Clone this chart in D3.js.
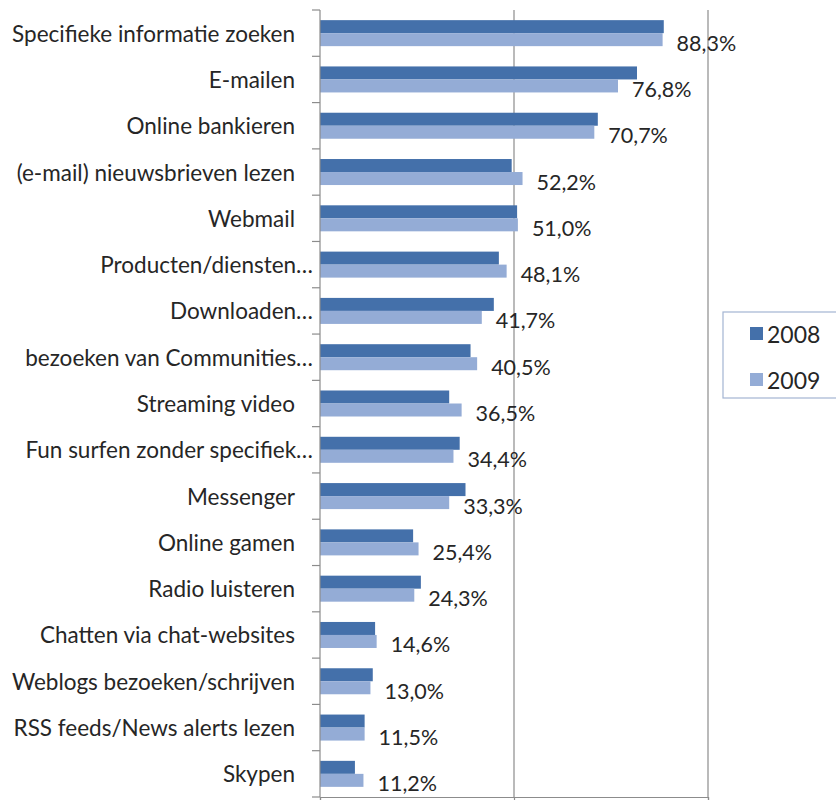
<!DOCTYPE html>
<html>
<head>
<meta charset="utf-8">
<script src="https://cdn.jsdelivr.net/npm/d3@7"></script>
<style>
body{margin:0;background:#fff;}
text{font-family:Lato,"Open Sans",sans-serif;fill:#262626;}
</style>
</head>
<body>
<div id="chart"></div>
<script>
var categories=['Specifieke informatie zoeken','E-mailen','Online bankieren','(e-mail) nieuwsbrieven lezen','Webmail',
'Producten/diensten…','Downloaden…','bezoeken van Communities…','Streaming video','Fun surfen zonder specifiek…',
'Messenger','Online gamen','Radio luisteren','Chatten via chat-websites','Weblogs bezoeken/schrijven',
'RSS feeds/News alerts lezen','Skypen'];
var v2008=[88.6,81.7,71.6,49.4,50.8,46.1,44.8,38.8,33.3,36.0,37.5,24.0,26.0,14.2,13.6,11.5,9.0];
var v2009=[88.3,76.8,70.7,52.2,51.0,48.1,41.7,40.5,36.5,34.4,33.3,25.4,24.3,14.6,13.0,11.5,11.2];
var years=['2008','2009'];
var colors={'2008':'#4470aa','2009':'#94acd6'};
var xTicks=[0,50,100];

var width=836,height=800;
var svg=d3.select("#chart").append("svg")
  .attr("width",width).attr("height",height);

var x=d3.scaleLinear().domain([0,100]).range([320,708]);
var y0=d3.scaleBand().domain(categories).range([10,797]);
var y1=d3.scaleBand().domain(years).range([0,y0.bandwidth()]).paddingOuter(0.78);

// gridlines
svg.selectAll(".grid")
  .data(xTicks.slice(1))
  .join("line")
  .attr("x1",d=>x(d)).attr("x2",d=>x(d))
  .attr("y1",10).attr("y2",797)
  .attr("stroke","#8c8c8c").attr("stroke-width",1.2);

var rows=categories.map(function(c,i){return {cat:c,'2008':v2008[i],'2009':v2009[i]};});

var g=svg.selectAll(".row").data(rows).join("g")
  .attr("transform",d=>"translate(0,"+y0(d.cat)+")");

g.selectAll("rect")
  .data(d=>years.map(k=>({key:k,value:d[k]})))
  .join("rect")
  .attr("x",x(0))
  .attr("y",d=>y1(d.key))
  .attr("width",d=>x(d.value)-x(0))
  .attr("height",y1.bandwidth())
  .attr("fill",d=>colors[d.key]);

// value labels (2009)
g.append("text")
  .attr("x",d=>x(d['2009'])+14)
  .attr("y",d=>y1('2009')+y1.bandwidth()/2+3)
  .attr("dominant-baseline","central")
  .attr("font-size",21.5)
  .text(d=>d['2009'].toFixed(1).replace('.',',')+'%');

// category labels
g.append("text")
  .attr("x",d=>d.cat.endsWith('…')?313:295)
  .attr("y",y0.bandwidth()/2)
  .attr("text-anchor","end")
  .attr("dominant-baseline","central")
  .attr("font-size",22.5)
  .text(d=>d.cat);

// left axis
var yAxis=svg.append("g");
yAxis.append("line")
  .attr("x1",320).attr("x2",320).attr("y1",10).attr("y2",797)
  .attr("stroke","#8c8c8c").attr("stroke-width",1.2);
var bounds=categories.map(c=>y0(c)).concat([797]);
yAxis.selectAll(".tick").data(bounds).join("line")
  .attr("x1",312).attr("x2",320)
  .attr("y1",d=>d).attr("y2",d=>d)
  .attr("stroke","#8c8c8c").attr("stroke-width",1.2);

// bottom axis
svg.append("g")
  .attr("transform","translate(0,797)")
  .call(d3.axisBottom(x).tickValues(xTicks).tickSize(6).tickFormat(""))
  .call(g=>g.selectAll("path,line").attr("stroke","#8c8c8c").attr("stroke-width",1.2));

// legend
var legend=svg.append("g");
legend.append("rect")
  .attr("x",723).attr("y",312).attr("width",140).attr("height",86)
  .attr("fill","#fff").attr("stroke","#a3b5d3").attr("stroke-width",1.2);
legend.selectAll(".sw").data(years).join("rect")
  .attr("x",750).attr("y",(d,i)=>327+i*46)
  .attr("width",13).attr("height",13)
  .attr("fill",d=>colors[d]);
legend.selectAll(".lt").data(years).join("text")
  .attr("x",767).attr("y",(d,i)=>334+i*46)
  .attr("dominant-baseline","central")
  .attr("font-size",23)
  .text(d=>d);
</script>
</body>
</html>
